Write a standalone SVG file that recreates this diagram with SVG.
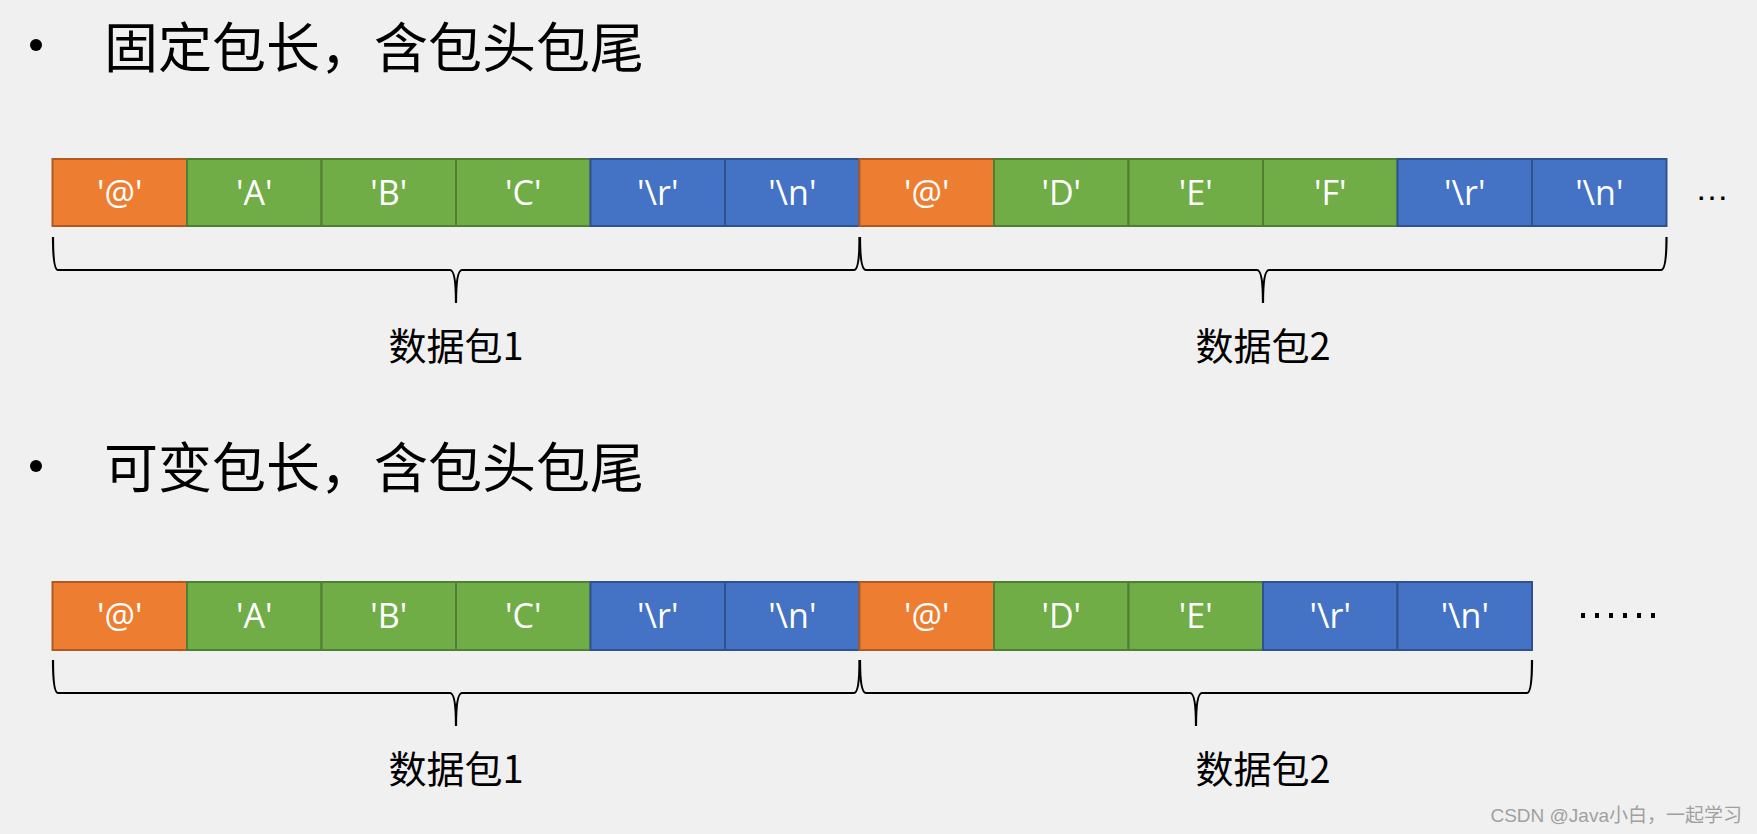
<svg xmlns="http://www.w3.org/2000/svg" width="1757" height="834" viewBox="0 0 1757 834">
<style>
.o{fill:#ed7d31;stroke:#ae5a21;stroke-width:2}
.g{fill:#70ad47;stroke:#507e32;stroke-width:2}
.b{fill:#4472c4;stroke:#2f528f;stroke-width:2}
.ct{font-family:"Open Sans","Liberation Sans",sans-serif;font-size:34px;fill:#fff;text-anchor:middle}
.lb{font-family:"Noto Sans CJK SC",sans-serif;font-size:38px;fill:#000;text-anchor:middle}
.tt{font-family:"Noto Sans CJK SC",sans-serif;font-size:54px;fill:#000}
.br{fill:none;stroke:#000;stroke-width:2.2}
</style>
<rect width="1757" height="834" fill="#f0f0f0"/>
<circle cx="36" cy="45" r="6" fill="#000"/>
<text class="tt" x="104" y="68">固定包长，含包头包尾</text>
<circle cx="36" cy="466" r="6" fill="#000"/>
<text class="tt" x="104" y="488">可变包长，含包头包尾</text>
<g id="row1">
<g id="r1c1"><rect class="o" x="52.5" y="159" width="134.5" height="67"/><text class="ct" x="119.75" y="205">'@'</text></g>
<g id="r1c2"><rect class="g" x="187" y="159" width="134.5" height="67"/><text class="ct" x="254.25" y="205">'A'</text></g>
<g id="r1c3"><rect class="g" x="321.5" y="159" width="134.5" height="67"/><text class="ct" x="388.75" y="205">'B'</text></g>
<g id="r1c4"><rect class="g" x="456" y="159" width="134.5" height="67"/><text class="ct" x="523.25" y="205">'C'</text></g>
<g id="r1c5"><rect class="b" x="590.5" y="159" width="134.5" height="67"/><text class="ct" x="657.75" y="205">'\r'</text></g>
<g id="r1c6"><rect class="b" x="725" y="159" width="134.5" height="67"/><text class="ct" x="792.25" y="205">'\n'</text></g>
<g id="r1c7"><rect class="o" x="859.5" y="159" width="134.5" height="67"/><text class="ct" x="926.75" y="205">'@'</text></g>
<g id="r1c8"><rect class="g" x="994" y="159" width="134.5" height="67"/><text class="ct" x="1061.25" y="205">'D'</text></g>
<g id="r1c9"><rect class="g" x="1128.5" y="159" width="134.5" height="67"/><text class="ct" x="1195.75" y="205">'E'</text></g>
<g id="r1c10"><rect class="g" x="1263" y="159" width="134.5" height="67"/><text class="ct" x="1330.25" y="205">'F'</text></g>
<g id="r1c11"><rect class="b" x="1397.5" y="159" width="134.5" height="67"/><text class="ct" x="1464.75" y="205">'\r'</text></g>
<g id="r1c12"><rect class="b" x="1532" y="159" width="134.5" height="67"/><text class="ct" x="1599.25" y="205">'\n'</text></g>
</g>
<text x="1712" y="200" font-family="Liberation Sans,sans-serif" font-size="34" text-anchor="middle">…</text>
<g id="row2">
<g id="r2c1"><rect class="o" x="52.5" y="582" width="134.5" height="68"/><text class="ct" x="119.75" y="628">'@'</text></g>
<g id="r2c2"><rect class="g" x="187" y="582" width="134.5" height="68"/><text class="ct" x="254.25" y="628">'A'</text></g>
<g id="r2c3"><rect class="g" x="321.5" y="582" width="134.5" height="68"/><text class="ct" x="388.75" y="628">'B'</text></g>
<g id="r2c4"><rect class="g" x="456" y="582" width="134.5" height="68"/><text class="ct" x="523.25" y="628">'C'</text></g>
<g id="r2c5"><rect class="b" x="590.5" y="582" width="134.5" height="68"/><text class="ct" x="657.75" y="628">'\r'</text></g>
<g id="r2c6"><rect class="b" x="725" y="582" width="134.5" height="68"/><text class="ct" x="792.25" y="628">'\n'</text></g>
<g id="r2c7"><rect class="o" x="859.5" y="582" width="134.5" height="68"/><text class="ct" x="926.75" y="628">'@'</text></g>
<g id="r2c8"><rect class="g" x="994" y="582" width="134.5" height="68"/><text class="ct" x="1061.25" y="628">'D'</text></g>
<g id="r2c9"><rect class="g" x="1128.5" y="582" width="134.5" height="68"/><text class="ct" x="1195.75" y="628">'E'</text></g>
<g id="r2c10"><rect class="b" x="1263" y="582" width="134.5" height="68"/><text class="ct" x="1330.25" y="628">'\r'</text></g>
<g id="r2c11"><rect class="b" x="1397.5" y="582" width="134.5" height="68"/><text class="ct" x="1464.75" y="628">'\n'</text></g>
</g>
<g fill="#000"><rect x="1581" y="613" width="4" height="5"/><rect x="1595" y="613" width="4" height="5"/><rect x="1609" y="613" width="4" height="5"/><rect x="1623" y="613" width="4" height="5"/><rect x="1637" y="613" width="4" height="5"/><rect x="1651" y="613" width="4" height="5"/></g>
<g id="braces">
<path class="br" d="M53,237 Q53,270 58,270 L450,270 Q456,270 456,303 Q456,270 462,270 L854,270 Q859.5,270 859.5,237"/>
<path class="br" d="M860,237 Q860,270 866,270 L1257,270 Q1263,270 1263,303 Q1263,270 1269,270 L1661,270 Q1666.5,270 1666.5,237"/>
<path class="br" d="M53,660 Q53,693 58,693 L450,693 Q456,693 456,726 Q456,693 462,693 L854,693 Q859.5,693 859.5,660"/>
<path class="br" d="M860,660 Q860,693 866,693 L1190,693 Q1196,693 1196,726 Q1196,693 1202,693 L1527,693 Q1532,693 1532,660"/>
</g>
<text class="lb" x="456" y="360">数据包1</text>
<text class="lb" x="1263" y="360">数据包2</text>
<text class="lb" x="456" y="783">数据包1</text>
<text class="lb" x="1263" y="783">数据包2</text>
<text x="1742" y="822" text-anchor="end" font-family="Liberation Sans,Noto Sans CJK SC,sans-serif" font-size="19" fill="#a0a0a0">CSDN @Java小白，一起学习</text>
</svg>
